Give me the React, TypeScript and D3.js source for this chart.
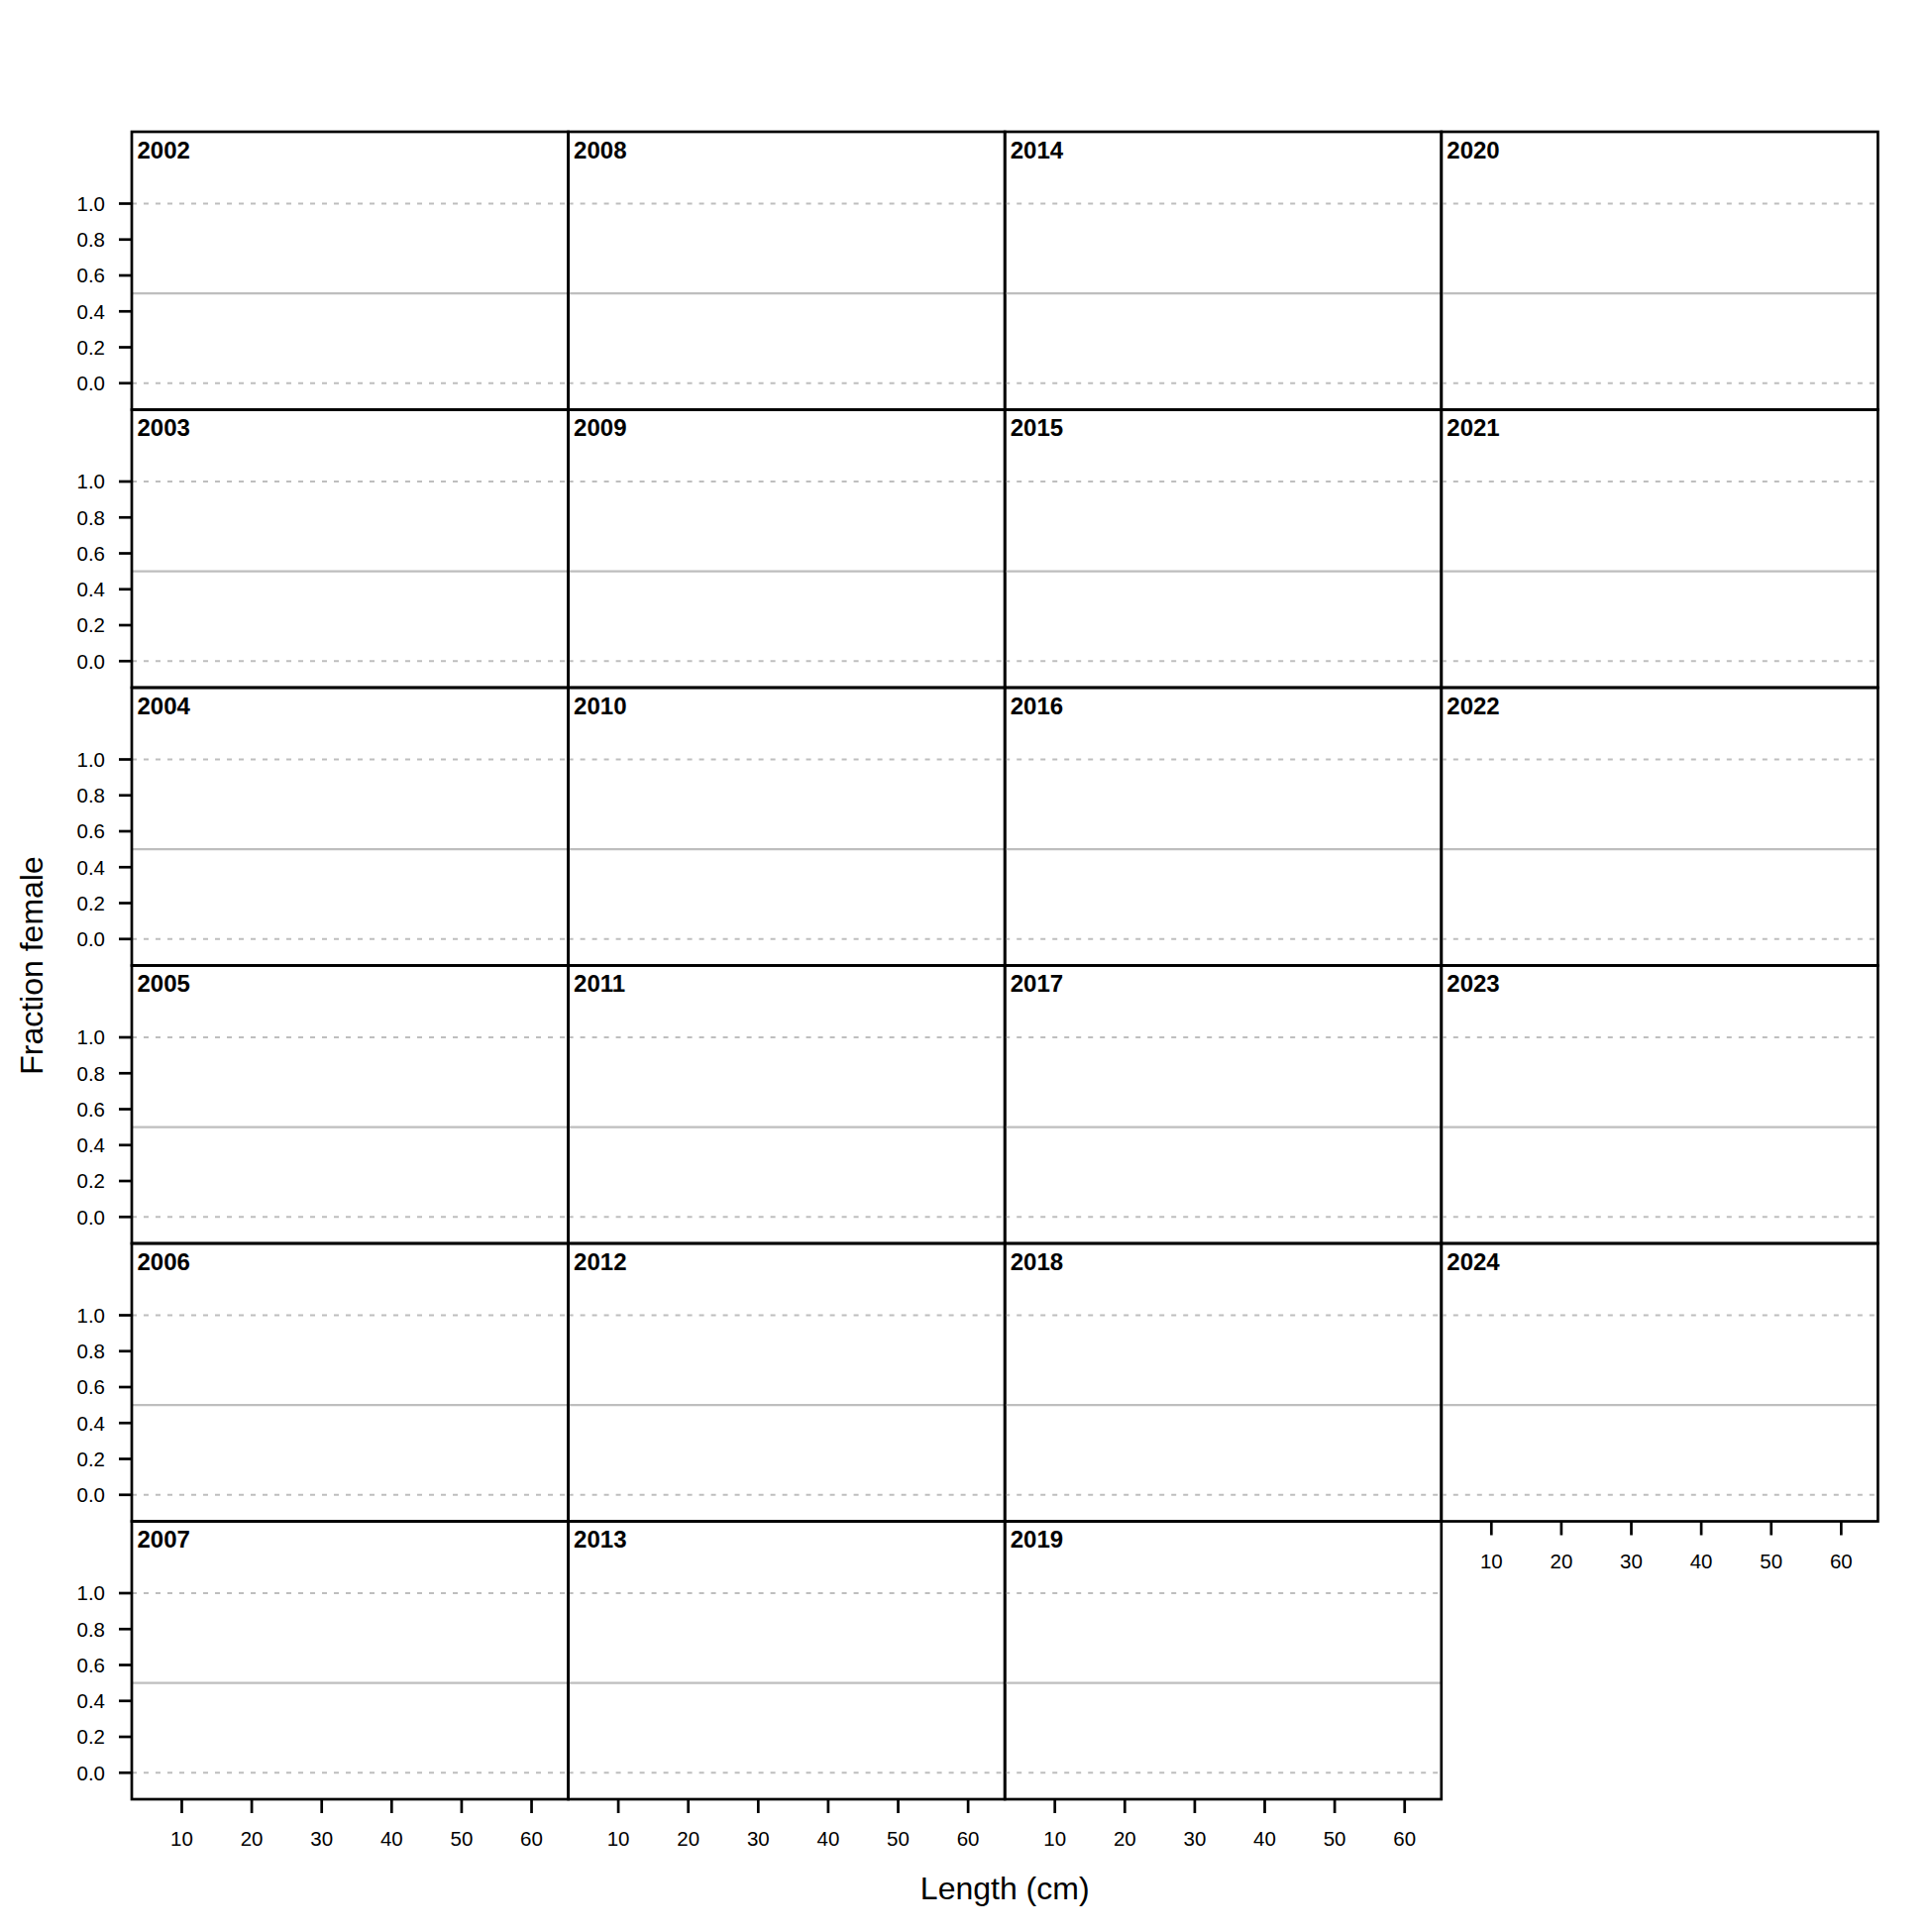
import React, { useEffect, useRef } from 'react';
import * as d3 from 'd3';

// panel years, filled column by column (6 rows x 4 columns)
const years = [
  2002, 2003, 2004, 2005, 2006, 2007,
  2008, 2009, 2010, 2011, 2012, 2013,
  2014, 2015, 2016, 2017, 2018, 2019,
  2020, 2021, 2022, 2023, 2024,
];
const yTicks = [0, 0.2, 0.4, 0.6, 0.8, 1.0];
const xTicks = [10, 20, 30, 40, 50, 60];
const refLinesDashed = [0, 1];
const refLineSolid = 0.5;

const nRows = 6;
const nCols = 4;

const App: React.FC = () => {
  const svgRef = useRef<SVGSVGElement | null>(null);

  useEffect(() => {
    if (!svgRef.current) return;
    const W = 1950;
    const H = 1950;
    const margin = { top: 133, left: 133 };
    const panelW = 440.6;
    const panelH = 280.5;
    const font = 'Liberation Sans, Arial, sans-serif';

    const svg = d3.select(svgRef.current);
    svg.selectAll('*').remove();
    svg.attr('width', W).attr('height', H);
    svg.append('rect').attr('width', W).attr('height', H).attr('fill', '#fff');

    const x = d3.scaleLinear().domain([2.85, 65.25]).range([0, panelW]);
    const y = d3.scaleLinear().domain([-0.1475, 1.4]).range([panelH, 0]);

    years.forEach((yr, i) => {
      const col = Math.floor(i / nRows);
      const row = i % nRows;
      const g = svg.append('g')
        .attr('transform', `translate(${margin.left + col * panelW},${margin.top + row * panelH})`);

      // reference lines
      refLinesDashed.forEach(v => {
        g.append('line')
          .attr('x1', 0).attr('x2', panelW)
          .attr('y1', y(v)).attr('y2', y(v))
          .attr('stroke', '#bebebe')
          .attr('stroke-width', 2.2)
          .attr('stroke-dasharray', '5 7');
      });
      g.append('line')
        .attr('x1', 0).attr('x2', panelW)
        .attr('y1', y(refLineSolid)).attr('y2', y(refLineSolid))
        .attr('stroke', '#bebebe')
        .attr('stroke-width', 2.4);

      // year label
      g.append('text')
        .attr('x', 5.5)
        .attr('y', 26.5)
        .style('font-family', font)
        .style('font-size', '24px')
        .style('font-weight', 'bold')
        .text(String(yr));

      // y axis on first column
      if (col === 0) {
        yTicks.forEach(t => {
          g.append('line')
            .attr('x1', -13).attr('x2', 0)
            .attr('y1', y(t)).attr('y2', y(t))
            .attr('stroke', '#000').attr('stroke-width', 2.7);
          g.append('text')
            .attr('x', -27)
            .attr('y', y(t))
            .attr('dy', '0.36em')
            .attr('text-anchor', 'end')
            .style('font-family', font)
            .style('font-size', '20.5px')
            .text(t.toFixed(1));
        });
      }

      // x axis on the bottom panel of each column
      const lastInCol = row === nRows - 1 || i === years.length - 1;
      if (lastInCol) {
        xTicks.forEach(t => {
          g.append('line')
            .attr('x1', x(t)).attr('x2', x(t))
            .attr('y1', panelH).attr('y2', panelH + 14)
            .attr('stroke', '#000').attr('stroke-width', 2.7);
          g.append('text')
            .attr('x', x(t))
            .attr('y', panelH + 47)
            .attr('text-anchor', 'middle')
            .style('font-family', font)
            .style('font-size', '20.5px')
            .text(String(t));
        });
      }

      // panel border
      g.append('rect')
        .attr('x', 0).attr('y', 0)
        .attr('width', panelW).attr('height', panelH)
        .attr('fill', 'none')
        .attr('stroke', '#000')
        .attr('stroke-width', 2.7);
    });

    // axis titles
    svg.append('text')
      .attr('x', margin.left + (nCols * panelW) / 2)
      .attr('y', 1917)
      .attr('text-anchor', 'middle')
      .style('font-family', font)
      .style('font-size', '32px')
      .text('Length (cm)');

    svg.append('text')
      .attr('transform', `translate(43,${margin.top + (nRows * panelH) / 2}) rotate(-90)`)
      .attr('text-anchor', 'middle')
      .style('font-family', font)
      .style('font-size', '32px')
      .text('Fraction female');
  }, []);

  return (
    <div style={{ position: 'absolute', left: 0, top: 0 }}>
      <svg ref={svgRef} style={{ display: 'block' }} />
    </div>
  );
};

export default App;
